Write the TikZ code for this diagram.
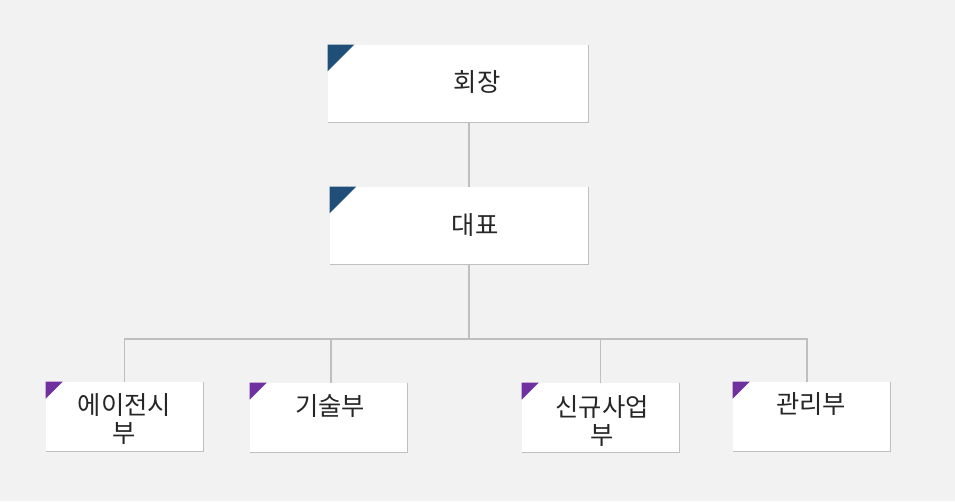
\documentclass[tikz,border=0pt]{standalone}
\usepackage{fontspec}
\setmainfont{Noto Sans CJK KR}
\usetikzlibrary{positioning}
\definecolor{bgfill}{HTML}{F2F2F2}
\definecolor{linegray}{HTML}{BFBFBF}
\definecolor{txtgray}{HTML}{262626}
\definecolor{tagblue}{HTML}{1F4E79}
\definecolor{tagpurple}{HTML}{7030A0}

\begin{document}
\begin{tikzpicture}[x=0.75pt,y=-0.75pt,
    topbox/.style={fill=white,inner sep=0pt,minimum width=195pt,minimum height=57.75pt},
    subbox/.style={fill=white,inner sep=0pt,minimum width=117.75pt,minimum height=51.75pt},
    shade/.style={draw=linegray,line width=1pt},
    link/.style={draw=linegray,line width=1.4pt},
    txt/.style={font=\fontsize{19}{21}\selectfont,text=txtgray,align=center,inner sep=0pt}]
\fill[bgfill] (0,0) rectangle (955,501);
\useasboundingbox (0,0) rectangle (955,501);

% boxes
\node[topbox] (chair) at (458,83.5) {};
\node[topbox,minimum width=193.5pt] (ceo) at (459,225.5) {};
\node[subbox] (agency) at (124.5,416.5) {};
\node[subbox] (tech) at (328.5,417.5) {};
\node[subbox] (newbiz) at (600.5,417.5) {};
\node[subbox] (admin) at (811.5,416.5) {};

% shadow edges and corner tags
\foreach \b in {chair,ceo,agency,tech,newbiz,admin}
    \draw[shade] ([xshift=0.4pt]\b.north east) -- ([xshift=0.4pt,yshift=-0.4pt]\b.south east) -- ([yshift=-0.4pt]\b.south west);
\foreach \b in {chair,ceo}
    \fill[tagblue] (\b.north west) -- ++(26.5,0) -- ++(-26.5,26.5) -- cycle;
\foreach \b in {agency,tech,newbiz,admin}
    \fill[tagpurple] (\b.north west) -- ++(17,0) -- ++(-17,17) -- cycle;

% texts
\node[txt] (chair-t) at (477,82) {회장};
\node[txt] (ceo-t) at (475,225) {대표};
\node[txt] (agency-t) at (124.5,419) {에이전시\\부};
\node[txt] (tech-t) at (330,406) {기술부};
\node[txt] (newbiz-t) at (602,421) {신규사업\\부};
\node[txt] (admin-t) at (811,404) {관리부};

% connectors
\coordinate (bus) at (469,339);
\draw[link] (chair.south -| bus) -- (ceo.north -| bus);
\draw[link] (ceo.south -| bus) -- (bus);
\draw[link] (bus) -| (agency.north);
\draw[link] (bus) -| ([xshift=1.9pt]tech.north);
\draw[link] (bus) -| (newbiz.north);
\draw[link] (bus) -| ([xshift=-3.4pt]admin.north);
\end{tikzpicture}
\end{document}
